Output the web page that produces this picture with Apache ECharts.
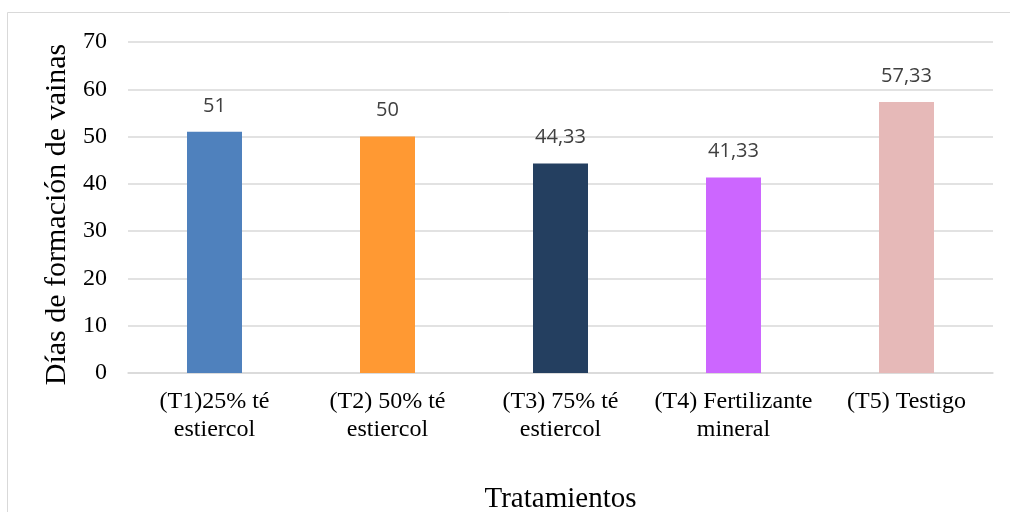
<!DOCTYPE html>
<html>
<head>
<meta charset="utf-8">
<script src="https://cdn.jsdelivr.net/npm/echarts@6/dist/echarts.min.js"></script>
<style>
  html, body { margin: 0; padding: 0; background: #fff; }
  #chart { width: 1010px; height: 512px; }
</style>
</head>
<body>
<div id="chart"></div>
<script>
// Treatments and days to pod formation
const categories = [
  '(T1)25% té\nestiercol',
  '(T2) 50% té\nestiercol',
  '(T3) 75% té\nestiercol',
  '(T4) Fertilizante\nmineral',
  '(T5) Testigo'
];
const days = [51, 50, 44.33, 41.33, 57.33];
const barColors = ['#4F81BD', '#FF9933', '#243F60', '#CC66FF', '#E6B9B8'];
const yTicks = { min: 0, max: 70, interval: 10 };

const chart = echarts.init(document.getElementById('chart'));
chart.setOption({
  backgroundColor: '#ffffff',
  animation: false,
  graphic: [{
    type: 'rect',
    shape: { x: 7.5, y: 12.5, width: 1010, height: 510 },
    style: { fill: 'none', stroke: '#d9d9d9', lineWidth: 1 }
  }],
  grid: {
    left: 128, right: 17, top: 42, bottom: 139,
    containLabel: false,
    outerBoundsMode: 'none'
  },
  xAxis: {
    type: 'category',
    data: categories,
    axisLine: { lineStyle: { color: '#d9d9d9', width: 1.5 } },
    axisTick: { show: false },
    axisLabel: {
      interval: 0,
      color: '#000',
      fontFamily: 'Liberation Serif',
      fontSize: 24,
      lineHeight: 28,
      margin: 15
    },
    name: 'Tratamientos',
    nameLocation: 'middle',
    nameGap: 112,
    nameTextStyle: { color: '#000', fontFamily: 'Liberation Serif', fontSize: 29 }
  },
  yAxis: {
    type: 'value',
    min: yTicks.min,
    max: yTicks.max,
    interval: yTicks.interval,
    axisLine: { show: false },
    axisTick: { show: false },
    splitLine: { lineStyle: { color: '#d9d9d9', width: 1.5 } },
    axisLabel: {
      color: '#000',
      fontFamily: 'Liberation Serif',
      fontSize: 24,
      margin: 21
    },
    name: 'Días de formación de vainas',
    nameLocation: 'middle',
    nameRotate: 90,
    nameGap: 48,
    nameTextStyle: {
      color: '#000',
      fontFamily: 'Liberation Serif',
      fontSize: 30,
      padding: [0, 14, 0, 0]
    }
  },
  series: [{
    type: 'bar',
    data: days.map((v, i) => ({ value: v, itemStyle: { color: barColors[i] } })),
    barWidth: 55,
    label: {
      show: true,
      position: 'top',
      distance: 16,
      color: '#404040',
      fontFamily: 'Open Sans',
      fontSize: 20,
      formatter: p => String(p.value).replace('.', ',')
    }
  }]
});
</script>
</body>
</html>
